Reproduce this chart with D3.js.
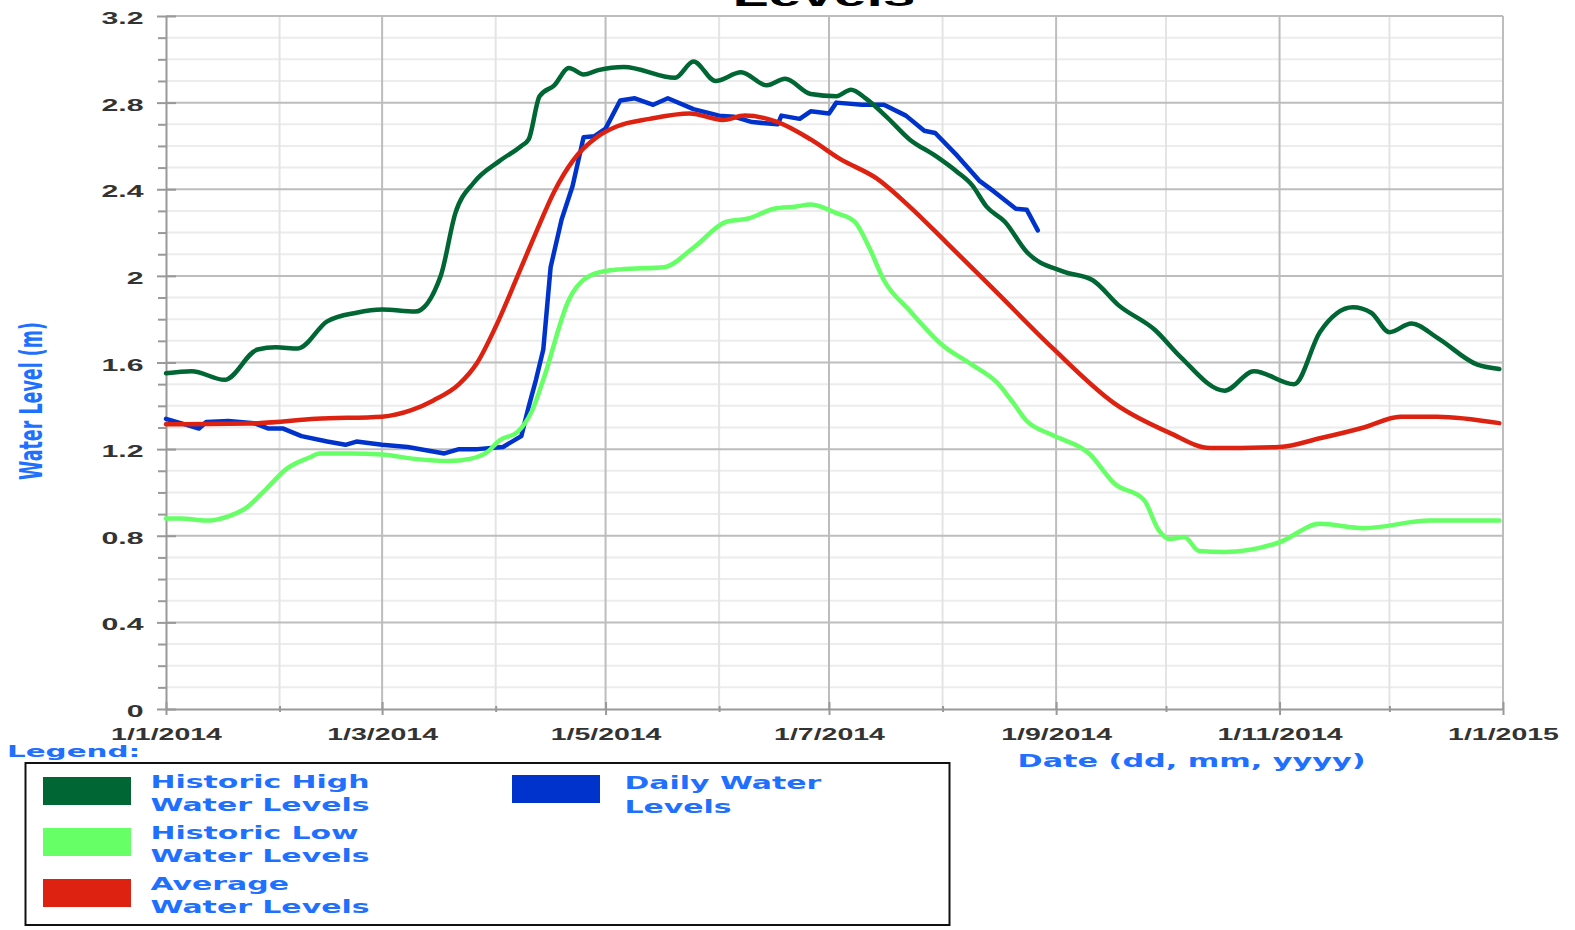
<!DOCTYPE html>
<html>
<head>
<meta charset="utf-8">
<script src="https://cdn.jsdelivr.net/npm/d3@7"></script>
<style>
  body { margin: 0; background: #fff; }
  svg { display: block; }
</style>
</head>
<body>
<div id="chart"></div>
<script>
// values: [date, water level in m]
const historicHigh = [
  ["2014-01-01",1.55],["2014-01-08",1.56],["2014-01-17",1.52],["2014-01-26",1.66],
  ["2014-01-31",1.67],["2014-02-06",1.665],["2014-02-14",1.79],["2014-02-22",1.83],
  ["2014-03-01",1.845],["2014-03-10",1.835],["2014-03-17",2.00],["2014-03-21",2.29],
  ["2014-03-26",2.43],["2014-04-02",2.53],["2014-04-08",2.60],["2014-04-10",2.63],
  ["2014-04-13",2.83],["2014-04-17",2.88],["2014-04-21",2.96],["2014-04-25",2.93],
  ["2014-04-29",2.95],["2014-05-06",2.965],["2014-05-20",2.915],["2014-05-25",2.99],
  ["2014-05-31",2.90],["2014-06-07",2.94],["2014-06-14",2.88],["2014-06-19",2.91],
  ["2014-06-26",2.84],["2014-07-03",2.83],["2014-07-07",2.86],["2014-07-11",2.82],
  ["2014-07-17",2.73],["2014-07-23",2.63],["2014-07-30",2.555],["2014-08-05",2.48],
  ["2014-08-09",2.42],["2014-08-13",2.32],["2014-08-18",2.25],["2014-08-24",2.11],
  ["2014-09-03",2.02],["2014-09-11",1.98],["2014-09-18",1.865],["2014-09-28",1.75],
  ["2014-10-05",1.625],["2014-10-17",1.47],["2014-10-25",1.56],["2014-11-05",1.50],
  ["2014-11-12",1.74],["2014-11-21",1.855],["2014-11-26",1.83],["2014-12-01",1.74],
  ["2014-12-07",1.78],["2014-12-14",1.715],["2014-12-25",1.59],["2014-12-31",1.57]
];

const historicLow = [
  ["2014-01-01",0.88],["2014-01-05",0.88],["2014-01-12",0.87],["2014-01-18",0.89],
  ["2014-01-23",0.93],["2014-01-28",1.01],["2014-02-03",1.11],["2014-02-09",1.16],
  ["2014-02-12",1.18],["2014-02-20",1.18],["2014-03-01",1.175],["2014-03-10",1.155],
  ["2014-03-19",1.145],["2014-03-25",1.155],["2014-03-30",1.19],["2014-04-02",1.24],
  ["2014-04-07",1.28],["2014-04-11",1.38],["2014-04-14",1.52],["2014-04-21",1.89],
  ["2014-04-28",2.01],["2014-05-05",2.03],["2014-05-17",2.04],["2014-05-25",2.13],
  ["2014-06-03",2.25],["2014-06-09",2.265],["2014-06-16",2.31],["2014-06-22",2.32],
  ["2014-06-26",2.33],["2014-07-03",2.29],["2014-07-08",2.25],["2014-07-12",2.13],
  ["2014-07-16",1.98],["2014-07-23",1.84],["2014-08-01",1.68],["2014-08-09",1.59],
  ["2014-08-16",1.505],["2014-08-20",1.42],["2014-08-24",1.33],["2014-08-31",1.265],
  ["2014-09-10",1.18],["2014-09-17",1.04],["2014-09-25",0.965],["2014-09-29",0.826],
  ["2014-10-02",0.785],["2014-10-06",0.794],["2014-10-10",0.73],["2014-10-17",0.725],
  ["2014-11-01",0.77],["2014-11-12",0.855],["2014-11-24",0.835],["2014-12-12",0.87],
  ["2014-12-31",0.87]
];

const averageLevel = [
  ["2014-01-01",1.315],["2014-01-26",1.32],["2014-02-11",1.34],["2014-03-01",1.35],
  ["2014-03-09",1.38],["2014-03-15",1.425],["2014-03-22",1.50],["2014-03-27",1.60],
  ["2014-04-01",1.765],["2014-04-07",2.00],["2014-04-12",2.20],["2014-04-17",2.39],
  ["2014-04-22",2.53],["2014-04-29",2.645],["2014-05-04",2.69],["2014-05-13",2.725],
  ["2014-05-24",2.75],["2014-06-02",2.72],["2014-06-08",2.74],["2014-06-17",2.71],
  ["2014-06-26",2.63],["2014-07-04",2.54],["2014-07-14",2.45],["2014-07-23",2.32],
  ["2014-08-02",2.155],["2014-08-16",1.92],["2014-08-31",1.667],["2014-09-17",1.41],
  ["2014-10-02",1.275],["2014-10-13",1.205],["2014-11-01",1.21],["2014-11-12",1.25],
  ["2014-11-24",1.30],["2014-12-04",1.35],["2014-12-14",1.35],["2014-12-31",1.32]
];

const dailyLevel = [
  ["2014-01-01",1.34],["2014-01-05",1.32],["2014-01-10",1.295],["2014-01-12",1.325],
  ["2014-01-18",1.33],["2014-01-25",1.32],["2014-01-29",1.295],["2014-02-02",1.295],
  ["2014-02-07",1.26],["2014-02-14",1.235],["2014-02-19",1.22],["2014-02-22",1.235],
  ["2014-03-01",1.22],["2014-03-08",1.21],["2014-03-18",1.18],["2014-03-22",1.20],
  ["2014-03-27",1.20],["2014-04-03",1.21],["2014-04-08",1.26],["2014-04-10",1.395],
  ["2014-04-12",1.52],["2014-04-14",1.66],["2014-04-16",2.04],["2014-04-19",2.26],
  ["2014-04-22",2.415],["2014-04-25",2.64],["2014-04-28",2.645],["2014-05-01",2.68],
  ["2014-05-05",2.81],["2014-05-09",2.82],["2014-05-14",2.79],["2014-05-18",2.82],
  ["2014-05-25",2.77],["2014-06-01",2.74],["2014-06-05",2.735],["2014-06-10",2.71],
  ["2014-06-17",2.70],["2014-06-18",2.74],["2014-06-23",2.725],["2014-06-26",2.76],
  ["2014-07-01",2.75],["2014-07-03",2.80],["2014-07-10",2.79],["2014-07-16",2.79],
  ["2014-07-22",2.74],["2014-07-27",2.67],["2014-07-30",2.66],["2014-08-05",2.555],
  ["2014-08-11",2.44],["2014-08-15",2.39],["2014-08-21",2.31],["2014-08-24",2.305],
  ["2014-08-27",2.21]
];

const xTickDates = ["2014-01-01","2014-03-01","2014-05-01","2014-07-01","2014-09-01","2014-11-01","2015-01-01"];
const xTickLabels = ["1/1/2014","1/3/2014","1/5/2014","1/7/2014","1/9/2014","1/11/2014","1/1/2015"];
const yTickValues = [0, 0.4, 0.8, 1.2, 1.6, 2, 2.4, 2.8, 3.2];
const yTickLabels = ["0","0.4","0.8","1.2","1.6","2","2.4","2.8","3.2"];
const legendNames = [["Historic High","Water Levels"],["Historic Low","Water Levels"],["Average","Water Levels"],["Daily Water","Levels"]];

// styles
const highColor = "#006633", lowColor = "#66ff66", avgColor = "#dd2211", dailyColor = "#0033cc";
const blueText = "#1f70ff";
const SX = 1.78; // the original picture is stretched sideways

const width = 1575, height = 930;
const plotLeft = 166, plotRight = 1503, plotTop = 16, plotBottom = 709;

const parse = d3.timeParse("%Y-%m-%d");

const svg = d3.select("#chart")
              .append("svg")
              .attr("width", width)
              .attr("height", height);

const x = d3.scaleTime()
            .domain([parse("2014-01-01"), parse("2015-01-01")])
            .range([plotLeft, plotRight]);

const y = d3.scaleLinear()
            .domain([0, 3.2])
            .range([plotBottom, plotTop]);

// grid
const months = d3.timeMonth.range(parse("2014-01-01"), parse("2015-01-02"));
const majorMonths = months.filter((d, i) => i % 2 == 0);
const minorMonths = months.filter((d, i) => i % 2 == 1);
const minorLevels = d3.range(1, 32).filter(i => i % 4 != 0).map(i => i / 10);

const grid = svg.append("g");
grid.selectAll(".hminor").data(minorLevels).enter().append("line")
    .attr("x1", plotLeft).attr("x2", plotRight)
    .attr("y1", d => y(d)).attr("y2", d => y(d))
    .attr("stroke", "#ececec").attr("stroke-width", 2);
grid.selectAll(".vminor").data(minorMonths).enter().append("line")
    .attr("x1", d => x(d)).attr("x2", d => x(d))
    .attr("y1", plotTop).attr("y2", plotBottom)
    .attr("stroke", "#e4e4e4").attr("stroke-width", 2);
grid.selectAll(".hmajor").data(yTickValues.slice(1)).enter().append("line")
    .attr("x1", plotLeft).attr("x2", plotRight)
    .attr("y1", d => y(d)).attr("y2", d => y(d))
    .attr("stroke", "#bdbdbd").attr("stroke-width", 2);
grid.selectAll(".vmajor").data(majorMonths.slice(1)).enter().append("line")
    .attr("x1", d => x(d)).attr("x2", d => x(d))
    .attr("y1", plotTop).attr("y2", plotBottom)
    .attr("stroke", "#bdbdbd").attr("stroke-width", 2);

// axes
const xAxisGroup = svg.append("g")
    .attr("transform", "translate(0," + plotBottom + ")")
    .call(d3.axisBottom(x)
            .tickValues(xTickDates.map(parse))
            .tickFormat((d, i) => xTickLabels[i])
            .tickSizeInner(6)
            .tickSizeOuter(0));
xAxisGroup.selectAll(".tick line").attr("y1", -7).attr("y2", 6);

svg.append("g")
   .attr("transform", "translate(0," + plotBottom + ")")
   .call(d3.axisBottom(x).tickValues(minorMonths).tickFormat("").tickSizeOuter(0))
   .call(g => g.select(".domain").remove())
   .selectAll(".tick line").attr("y1", -3).attr("y2", 3);

const yAxisGroup = svg.append("g")
    .attr("transform", "translate(" + plotLeft + ",0)")
    .call(d3.axisLeft(y)
            .tickValues(yTickValues)
            .tickFormat((d, i) => yTickLabels[i])
            .tickSizeInner(9)
            .tickSizeOuter(0));
yAxisGroup.selectAll(".tick line").attr("x1", 10).attr("x2", -9);

svg.append("g")
   .attr("transform", "translate(" + plotLeft + ",0)")
   .call(d3.axisLeft(y).tickValues(minorLevels).tickFormat("").tickSizeInner(8).tickSizeOuter(0))
   .call(g => g.select(".domain").remove());

svg.selectAll(".domain, .tick line").attr("stroke", "#999").attr("stroke-width", 2);

xAxisGroup.selectAll(".tick text")
    .attr("dy", null).attr("y", 31)
    .attr("transform", "scale(" + SX + ",1)")
    .attr("font-family", "Liberation Sans, Arial, sans-serif")
    .attr("font-weight", "bold").attr("font-size", 16)
    .attr("fill", "#333");
yAxisGroup.selectAll(".tick text")
    .attr("dy", null).attr("y", 7.5).attr("x", -22.5 / SX)
    .attr("transform", "scale(" + SX + ",1)")
    .attr("font-family", "Liberation Sans, Arial, sans-serif")
    .attr("font-weight", "bold").attr("font-size", 17)
    .attr("fill", "#333");

// lines
const smooth = d3.line()
                 .x(d => x(parse(d[0])))
                 .y(d => y(d[1]))
                 .curve(d3.curveMonotoneX);
const jagged = d3.line()
                 .x(d => x(parse(d[0])))
                 .y(d => y(d[1]));

const lines = [
  [dailyLevel, dailyColor, jagged],
  [historicHigh, highColor, smooth],
  [historicLow, lowColor, smooth],
  [averageLevel, avgColor, smooth]
];
lines.forEach(function(l) {
  svg.append("path")
     .attr("d", l[2](l[0]))
     .attr("fill", "none")
     .attr("stroke", l[1])
     .attr("stroke-width", 4.5)
     .attr("stroke-linejoin", "round")
     .attr("stroke-linecap", "round");
});

// titles
function stretchedText(tx, ty, str, size, color, family, anchor) {
  return svg.append("text")
            .attr("transform", "translate(" + tx + "," + ty + ") scale(" + SX + ",1)")
            .attr("text-anchor", anchor || "start")
            .attr("font-family", family || "DejaVu Sans, Verdana, sans-serif")
            .attr("font-weight", "bold")
            .attr("font-size", size)
            .attr("fill", color)
            .text(str);
}

stretchedText(824, 6, "Levels", 33, "#000", "Liberation Sans, Arial, sans-serif", "middle");
stretchedText(1191.5, 767, "Date (dd, mm, yyyy)", 17, blueText, null, "middle");

svg.append("text")
   .attr("transform", "translate(41.5,401) scale(" + SX + ",1) rotate(-90)")
   .attr("text-anchor", "middle")
   .attr("font-family", "DejaVu Sans, Verdana, sans-serif")
   .attr("font-weight", "bold")
   .attr("font-size", 17.5)
   .attr("fill", blueText)
   .text("Water Level (m)");

// legend
stretchedText(7, 757, "Legend:", 16.5, blueText);

svg.append("rect")
   .attr("x", 25.5).attr("y", 763)
   .attr("width", 924).attr("height", 162)
   .attr("fill", "none").attr("stroke", "#111").attr("stroke-width", 2);

const legendColors = [highColor, lowColor, avgColor, dailyColor];
legendNames.forEach(function(name, i) {
  const lx = i < 3 ? 43 : 512;
  const ly = i < 3 ? 777 + i * 51 : 775;
  const tx = i < 3 ? lx + 107.5 : lx + 112.5;
  const ty = i < 3 ? ly + 10.5 : ly + 14;
  svg.append("rect")
     .attr("x", lx).attr("y", ly)
     .attr("width", 88).attr("height", 28)
     .attr("fill", legendColors[i]);
  stretchedText(tx, ty, name[0], 16.8, blueText);
  stretchedText(tx, ty + 23.5, name[1], 16.8, blueText);
});
</script>
</body>
</html>
